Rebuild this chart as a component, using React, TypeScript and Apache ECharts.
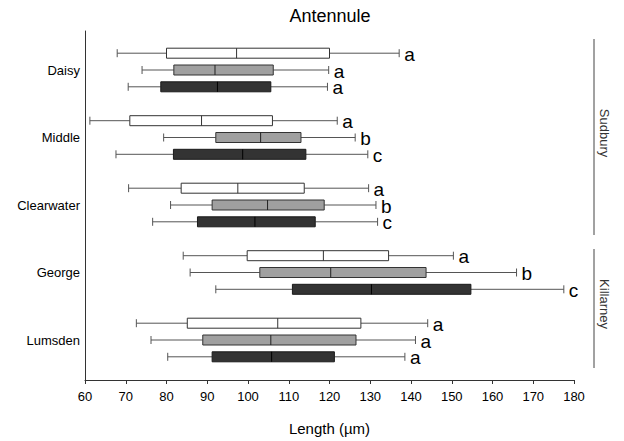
import React, { useEffect, useRef } from "react";
import * as echarts from "echarts";

// Sites (category axis, top to bottom)
const sites = ["Daisy", "Middle", "Clearwater", "George", "Lumsden"];

// Box statistics per site: [min, q1, median, q3, max] (µm)
const whiteBoxes = [
  [67.9, 80.0, 97.2, 120.0, 137.1],
  [61.2, 71.0, 88.6, 106.0, 121.9],
  [70.7, 83.6, 97.5, 113.8, 129.6],
  [84.1, 99.8, 118.5, 134.5, 150.4],
  [72.6, 85.1, 107.3, 127.7, 144.1],
];
const grayBoxes = [
  [74.0, 81.8, 91.9, 106.2, 119.8],
  [79.3, 92.1, 103.1, 113.0, 126.3],
  [81.0, 91.2, 104.8, 118.7, 131.4],
  [85.8, 102.9, 120.3, 143.7, 165.9],
  [76.2, 88.9, 105.6, 126.5, 141.1],
];
const darkBoxes = [
  [70.6, 78.6, 92.5, 105.6, 119.5],
  [67.6, 81.7, 98.7, 114.2, 129.4],
  [76.6, 87.6, 101.7, 116.5, 131.8],
  [92.1, 110.9, 130.3, 154.7, 177.5],
  [80.3, 91.2, 105.8, 121.2, 138.5],
];

// Significance letters
const whiteLetters = ["a", "a", "a", "a", "a"];
const grayLetters = ["a", "b", "b", "b", "a"];
const darkLetters = ["a", "c", "c", "c", "a"];

// Regions
const regions = ["Sudbury", "Killarney"];

const FONT = "'Liberation Sans', Arial, Helvetica, sans-serif";

function makeSeries(
  name: string,
  boxes: number[][],
  letters: string[],
  offset: number,
  fill: string,
  stroke: string,
  medianColor: string
) {
  return {
    type: "custom",
    name,
    xAxisIndex: 1,
    yAxisIndex: 1,
    data: boxes.map((b, i) => [i, ...b]),
    encode: { x: [1, 2, 3, 4, 5], y: 0 },
    renderItem: (params: any, api: any) => {
      const cat = api.value(0);
      const xs = [1, 2, 3, 4, 5].map((k) => api.coord([api.value(k), cat])[0]);
      const y = api.coord([api.value(1), cat])[1] + offset;
      const h = 10;
      const cap = 8;
      const wl = { stroke: "#555", lineWidth: 1 };
      return {
        type: "group",
        children: [
          { type: "line", shape: { x1: xs[0], y1: y, x2: xs[1], y2: y }, style: wl },
          { type: "line", shape: { x1: xs[3], y1: y, x2: xs[4], y2: y }, style: wl },
          { type: "line", shape: { x1: xs[0], y1: y - cap / 2, x2: xs[0], y2: y + cap / 2 }, style: wl },
          { type: "line", shape: { x1: xs[4], y1: y - cap / 2, x2: xs[4], y2: y + cap / 2 }, style: wl },
          {
            type: "rect",
            shape: { x: xs[1], y: y - h / 2, width: xs[3] - xs[1], height: h },
            style: { fill, stroke, lineWidth: 1 },
          },
          {
            type: "line",
            shape: { x1: xs[2], y1: y - h / 2, x2: xs[2], y2: y + h / 2 },
            style: { stroke: medianColor, lineWidth: 1 },
          },
          {
            type: "text",
            x: xs[4] + 5,
            y: y + 1,
            style: {
              text: letters[params.dataIndex],
              fill: "#000",
              font: `19px ${FONT}`,
              lineHeight: 15,
              align: "left",
              verticalAlign: "middle",
            },
          },
        ],
      };
    },
  };
}

export default function App() {
  const ref = useRef<HTMLDivElement>(null);

  useEffect(() => {
    if (!ref.current) return;
    const chart = echarts.init(ref.current, undefined, { renderer: "svg" });
    const option: any = {
      animation: false,
      backgroundColor: "#fff",
      textStyle: { fontFamily: FONT },
      title: {
        text: "Antennule",
        left: 330,
        textAlign: "center",
        top: 7,
        padding: 0,
        textStyle: { fontSize: 18, fontWeight: "normal", color: "#000", fontFamily: FONT },
      },
      grid: [
        { left: 85, right: 50, top: 31, bottom: 60, containLabel: false },
        { left: 85, right: 50, top: 36.25, height: 337.5, containLabel: false },
      ],
      xAxis: [
        {
          gridIndex: 0,
          type: "value",
          min: 60,
          max: 180,
          interval: 10,
          name: "Length (µm)",
          nameLocation: "middle",
          nameGap: 41,
          nameTextStyle: { fontSize: 15, color: "#000", fontFamily: FONT },
          axisLine: { show: true, lineStyle: { color: "#333", width: 1 } },
          axisTick: { show: true, length: 4, lineStyle: { color: "#333" } },
          axisLabel: { fontSize: 13, color: "#000", margin: 10, fontFamily: FONT },
          splitLine: { show: false },
        },
        {
          gridIndex: 1,
          type: "value",
          min: 60,
          max: 180,
          show: false,
        },
      ],
      yAxis: [
        {
          gridIndex: 0,
          type: "value",
          min: 0,
          max: 1,
          axisLine: { show: true, lineStyle: { color: "#333", width: 1 } },
          axisTick: { show: false },
          axisLabel: { show: false },
          splitLine: { show: false },
        },
        {
          gridIndex: 1,
          type: "category",
          data: sites,
          inverse: true,
          axisLine: { show: false },
          axisTick: { show: false },
          axisLabel: { fontSize: 13, color: "#000", margin: 5, fontFamily: FONT },
          splitLine: { show: false },
        },
      ],
      series: [
        makeSeries("white", whiteBoxes, whiteLetters, -16.8, "#ffffff", "#333", "#333"),
        makeSeries("gray", grayBoxes, grayLetters, 0, "#a0a0a0", "#333", "#222"),
        makeSeries("dark", darkBoxes, darkLetters, 16.8, "#333333", "#1a1a1a", "#000"),
      ],
      graphic: [
        { type: "line", shape: { x1: 594, y1: 39, x2: 594, y2: 235 }, style: { stroke: "#444", lineWidth: 1 } },
        { type: "line", shape: { x1: 594, y1: 249, x2: 594, y2: 368 }, style: { stroke: "#444", lineWidth: 1 } },
        {
          type: "text",
          x: 604,
          y: 133,
          rotation: -Math.PI / 2,
          style: { text: regions[0], font: `13px ${FONT}`, fill: "#333", align: "center", verticalAlign: "middle" },
        },
        {
          type: "text",
          x: 604,
          y: 304,
          rotation: -Math.PI / 2,
          style: { text: regions[1], font: `13px ${FONT}`, fill: "#333", align: "center", verticalAlign: "middle" },
        },
      ],
    };
    chart.setOption(option);
    return () => chart.dispose();
  }, []);

  return (
    <div
      ref={ref}
      style={{ position: "fixed", left: 0, top: 0, width: 624, height: 441, background: "#fff" }}
    />
  );
}
